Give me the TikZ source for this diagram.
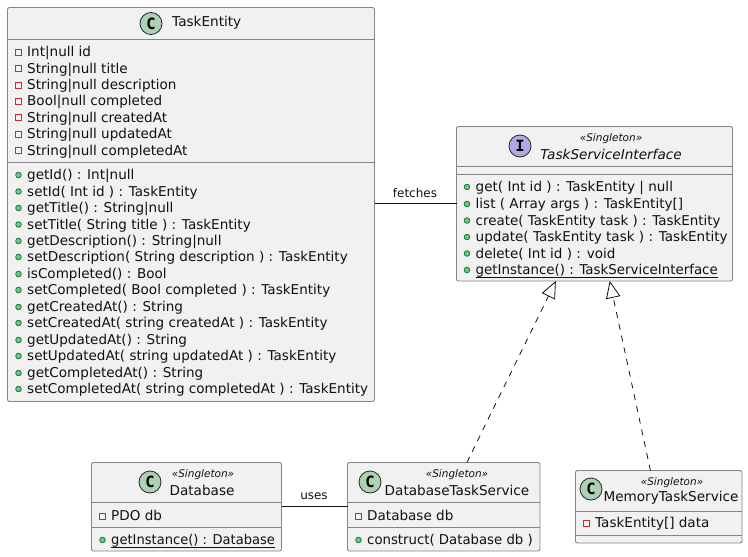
\documentclass[tikz,border=0pt]{standalone}
\usepackage{fontspec}
\setmainfont{DejaVu Sans}
\newfontfamily\badgefont{DejaVu Sans Mono}
\usetikzlibrary{arrows.meta,calc}
\definecolor{boxfill}{HTML}{F1F1F1}
\definecolor{boxline}{HTML}{858585}
\definecolor{ink}{HTML}{111111}
\definecolor{privred}{HTML}{C82930}
\definecolor{pubfill}{HTML}{84BE84}
\definecolor{publine}{HTML}{038048}
\definecolor{classgreen}{HTML}{ADD1B2}
\definecolor{ifacepurple}{HTML}{B4A7E5}
\newcounter{rowno}
\newsavebox{\ulsave}
\newcommand{\ulrow}[1]{\sbox{\ulsave}{#1}\rlap{\rule[-3.2pt]{\wd\ulsave}{0.8pt}}\usebox{\ulsave}}
\tikzset{
  x=1pt,y=-1pt,
  umlbox/.style={draw=boxline,fill=boxfill,line width=0.9pt,rounded corners=2pt,inner sep=0pt,outer sep=0pt},
  divider/.style={draw=boxline,line width=0.9pt},
  rowtext/.style={anchor=base west,inner sep=0pt,text=ink,font=\fontsize{13.55}{15}\selectfont},
  titletext/.style={inner sep=0pt,text=ink,font=\fontsize{13.6}{15}\selectfont},
  stereo/.style={inner sep=0pt,text=ink,font=\fontsize{10.5}{12}\itshape\selectfont},
  privmark/.style={draw=privred,line width=0.8pt},
  pubmark/.style={draw=publine,fill=pubfill,line width=0.8pt},
  badge/.style={circle,draw=black!85,line width=0.8pt,minimum size=22pt,inner sep=0pt,font=\fontsize{15.5}{15.5}\badgefont\bfseries\selectfont},
  conn/.style={draw=ink,line width=0.9pt},
  realize/.style={draw=ink,line width=0.8pt,dash pattern=on 6pt off 6pt,-{Triangle[open,length=17pt,width=14.5pt,fill=white]}},
  edgelabel/.style={inner sep=0pt,text=ink,font=\fontsize{12}{14}\selectfont},
}
\newcommand{\umlbox}[5]{% name, x1, y1, x2, y2
  \node[umlbox,minimum width=#4pt-#2pt,minimum height=#5pt-#3pt] (#1) at ({(#2+#4)/2},{(#3+#5)/2}) {};}
\newcommand{\privrow}[3]{\stepcounter{rowno}%
  \draw[privmark] (#1-3,#2-3) rectangle (#1+3,#2+3);
  \node[rowtext] (row\therowno) at (#1+8.5,#2+4.7) {#3};}
\newcommand{\pubrow}[3]{\stepcounter{rowno}%
  \draw[pubmark] (#1,#2) circle[radius=2.8pt];
  \node[rowtext] (row\therowno) at (#1+8.5,#2+4.7) {#3};}
\begin{document}
\begin{tikzpicture}
\useasboundingbox (0,0) rectangle (748,557);
% TaskEntity
\umlbox{te}{7.5}{7.5}{374.5}{401.5}
\draw[divider] (7.5,39.5) -- (374.5,39.5);
\draw[divider] (7.5,162.5) -- (374.5,162.5);
\node[badge,fill=classgreen] (tebadge) at (151,23.5) {C};
\node[titletext,anchor=west] (tetitle) at (172,23) {TaskEntity};
\privrow{18.5}{52}{Int|null id}
\privrow{18.5}{68.5}{String|null title}
\privrow{18.5}{85}{String|null description}
\privrow{18.5}{101}{Bool|null completed}
\privrow{18.5}{117.5}{String|null createdAt}
\privrow{18.5}{134}{String|null updatedAt}
\privrow{18.5}{150.5}{String|null completedAt}
\pubrow{18.5}{175}{getId() : Int|null}
\pubrow{18.5}{191.5}{setId( Int id ) : TaskEntity}
\pubrow{18.5}{208}{getTitle() : String|null}
\pubrow{18.5}{224.5}{setTitle( String title ) : TaskEntity}
\pubrow{18.5}{241}{getDescription() : String|null}
\pubrow{18.5}{257}{setDescription( String description ) : TaskEntity}
\pubrow{18.5}{274}{isCompleted() : Bool}
\pubrow{18.5}{290}{setCompleted( Bool completed ) : TaskEntity}
\pubrow{18.5}{307}{getCreatedAt() : String}
\pubrow{18.5}{323}{setCreatedAt( string createdAt ) : TaskEntity}
\pubrow{18.5}{340}{getUpdatedAt() : String}
\pubrow{18.5}{356}{setUpdatedAt( string updatedAt ) : TaskEntity}
\pubrow{18.5}{373}{getCompletedAt() : String}
\pubrow{18.5}{389}{setCompletedAt( string completedAt ) : TaskEntity}
% Interface
\umlbox{iface}{456.5}{126.5}{732.5}{281}
\draw[divider] (456.5,166.5) -- (732.5,166.5);
\draw[divider] (456.5,174.5) -- (732.5,174.5);
\node[badge,fill=ifacepurple] (ifbadge) at (520,146) {I};
\node[stereo] (ifstereo) at (611,139) {«Singleton»};
\node[titletext,font=\fontsize{13.6}{15}\itshape\selectfont] (iftitle) at (611,154.5) {TaskServiceInterface};
\pubrow{467}{187}{get( Int id ) : TaskEntity | null}
\pubrow{467}{204}{list ( Array args ) : TaskEntity[]}
\pubrow{467}{220.5}{\scalebox{0.99}[1]{create( TaskEntity task ) : TaskEntity}}
\pubrow{467}{237}{update( TaskEntity task ) : TaskEntity}
\pubrow{467}{253.5}{delete( Int id ) : void}
\pubrow{467}{270}{\scalebox{0.988}[1]{\ulrow{getInstance() : TaskServiceInterface}}}
% Database
\umlbox{db}{91.5}{462.5}{281.5}{551}
\draw[divider] (91.5,502.5) -- (281.5,502.5);
\draw[divider] (91.5,527.5) -- (281.5,527.5);
\node[badge,fill=classgreen] (dbbadge) at (150,482) {C};
\node[stereo] (dbstereo) at (203,475) {«Singleton»};
\node[titletext] (dbtitle) at (202,490) {Database};
\privrow{102.5}{516}{PDO db}
\pubrow{102.5}{540}{\scalebox{0.965}[1]{\ulrow{getInstance() : Database}}}
% DatabaseTaskService
\umlbox{dts}{347.5}{462.5}{540}{551}
\draw[divider] (347.5,502.5) -- (540,502.5);
\draw[divider] (347.5,527.5) -- (540,527.5);
\node[badge,fill=classgreen] (dtsbadge) at (370,482) {C};
\node[stereo] (dtsstereo) at (457,475) {«Singleton»};
\node[titletext] (dtstitle) at (457,490) {DatabaseTaskService};
\privrow{358.5}{516}{Database db}
\pubrow{358.5}{540}{\scalebox{0.98}[1]{construct( Database db )}}
% MemoryTaskService
\umlbox{mts}{575.5}{470.5}{742}{543}
\draw[divider] (575.5,511) -- (742,511);
\draw[divider] (575.5,535) -- (742,535);
\node[badge,fill=classgreen] (mtsbadge) at (591,489) {C};
\node[stereo] (mtsstereo) at (672,483) {«Singleton»};
\node[titletext] (mtstitle) at (671,498) {MemoryTaskService};
\privrow{586.5}{523}{TaskEntity[] data}
% Connectors
\draw[conn] (te.east |- iface.west) -- (iface.west);
\node[edgelabel] (fetches) at (415,193) {fetches};
\draw[conn] (db.east) -- (dts.west);
\node[edgelabel] (uses) at (314,496) {uses};
\coordinate (dtstop) at ($(dts.north west)!0.62!(dts.north east)$);
\coordinate (mtstop) at ($(mts.north west)!0.45!(mts.north east)$);
\coordinate (iftipa) at ($(iface.south west)!0.36!(iface.south east)$);
\coordinate (iftipb) at ($(iface.south west)!0.555!(iface.south east)$);
\draw[realize] (dtstop) -- (iftipa);
\draw[realize] (mtstop) -- (iftipb);
\end{tikzpicture}
\end{document}
